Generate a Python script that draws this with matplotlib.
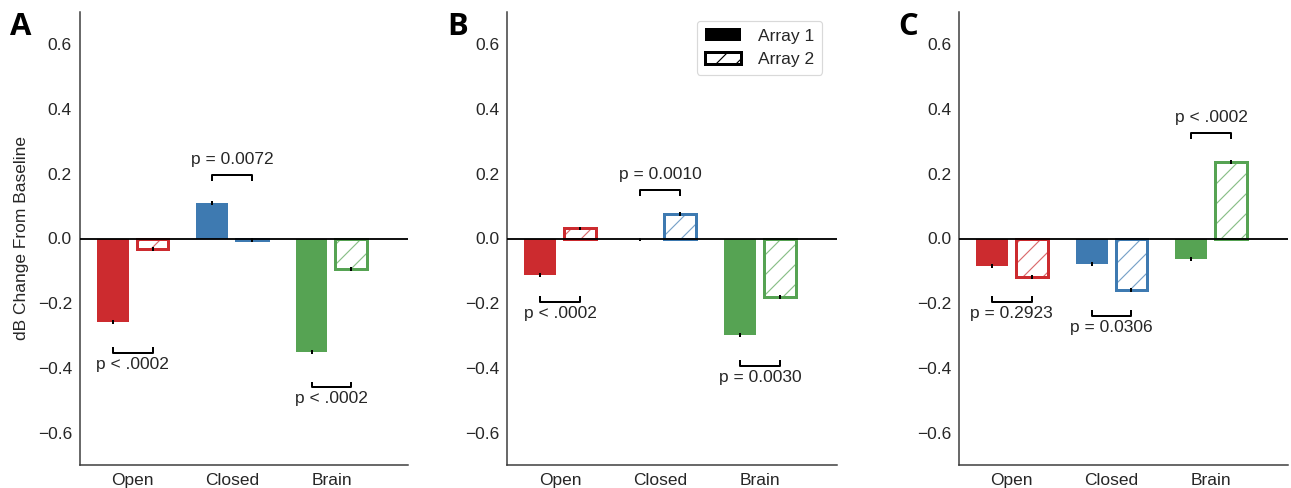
import matplotlib
matplotlib.use("Agg")
import matplotlib.pyplot as plt
from matplotlib.patches import Patch
import numpy as np

# ---------------- data ----------------
categories = ["Open", "Closed", "Brain"]
panel_letters = ["A", "B", "C"]

array1_A = [-0.257, 0.111, -0.352]
array2_A = [-0.033, -0.005, -0.094]
array1_B = [-0.114, -0.003, -0.297]
array2_B = [0.031, 0.077, -0.182]
array1_C = [-0.084, -0.080, -0.062]
array2_C = [-0.118, -0.158, 0.236]

err1_A = [0.006, 0.006, 0.006]
err2_A = [0.006, 0.006, 0.006]
err1_B = [0.006, 0.006, 0.006]
err2_B = [0.006, 0.006, 0.006]
err1_C = [0.006, 0.006, 0.006]
err2_C = [0.006, 0.006, 0.006]

pvals_A = ["p < .0002", "p = 0.0072", "p < .0002"]
pvals_B = ["p < .0002", "p = 0.0010", "p = 0.0030"]
pvals_C = ["p = 0.2923", "p = 0.0306", "p < .0002"]

# bracket heights (data units) and direction (+1 above, -1 below)
bracket_y_A = [-0.354, 0.195, -0.460]
bracket_y_B = [-0.197, 0.149, -0.395]
bracket_y_C = [-0.197, -0.240, 0.325]
bracket_dir_A = [-1, 1, -1]
bracket_dir_B = [-1, 1, -1]
bracket_dir_C = [-1, -1, 1]

yticks = [-0.6, -0.4, -0.2, 0.0, 0.2, 0.4, 0.6]

colors = ["#CC2B2F", "#3E7AB1", "#56A353"]

panels = [
    (array1_A, array2_A, err1_A, err2_A, pvals_A, bracket_y_A, bracket_dir_A),
    (array1_B, array2_B, err1_B, err2_B, pvals_B, bracket_y_B, bracket_dir_B),
    (array1_C, array2_C, err1_C, err2_C, pvals_C, bracket_y_C, bracket_dir_C),
]

# ---------------- figure ----------------
DPI = 120
W, H = 1291, 488
plt.rcParams["font.family"] = ["Liberation Sans", "DejaVu Sans"]
plt.rcParams["hatch.linewidth"] = 0.7
fig = plt.figure(figsize=(W / DPI, H / DPI), dpi=DPI)

ax_px = [(80, 408), (507, 837), (959, 1288)]
top_px, bot_px = 12, 465
letter_x = [10, 447, 898]

text_col = "#262626"
fs = 10.4


def lighten(c, f):
    rgb = np.array(matplotlib.colors.to_rgb(c))
    return tuple(rgb + (1 - rgb) * f)


for i, (a1, a2, e1, e2, pv, by, bd) in enumerate(panels):
    l, r = ax_px[i]
    ax = fig.add_axes([l / W, 1 - bot_px / H, (r - l) / W, (bot_px - top_px) / H])
    x = np.arange(len(categories))
    w = 0.32
    off = 0.2
    for j in range(len(categories)):
        c = colors[j]
        ax.bar(x[j] - off, a1[j], width=w, color=c, linewidth=0, zorder=2)
        ax.bar(x[j] + off, a2[j], width=w, color="none", edgecolor=lighten(c, 0.3),
               hatch="//", linewidth=0, zorder=2)
        ax.bar(x[j] + off, a2[j], width=w, fill=False, edgecolor=c,
               linewidth=1.8, zorder=2.5)
        ax.errorbar([x[j] - off], [a1[j]], yerr=[e1[j]], fmt="none",
                    ecolor="black", elinewidth=1.2, capsize=0, zorder=4)
        ax.errorbar([x[j] + off], [a2[j]], yerr=[e2[j]], fmt="none",
                    ecolor="black", elinewidth=1.2, capsize=0, zorder=4)
        # significance bracket
        yb = by[j]
        d = bd[j]
        tick = 0.018
        ax.plot([x[j] - off, x[j] - off, x[j] + off, x[j] + off],
                [yb - d * tick, yb, yb, yb - d * tick],
                color="black", lw=1.2, zorder=4, solid_capstyle="butt")
        ty = yb + (0.05 if d > 0 else -0.034)
        ax.text(x[j], ty, pv[j], ha="center", va="center", fontsize=fs,
                color=text_col)

    ax.axhline(0, color="black", lw=1.1, zorder=3)
    ax.set_ylim(-0.7, 0.7)
    ax.set_xlim(-0.53, 2.77)
    ax.set_yticks(yticks)
    ax.set_yticklabels([("\u2212" if t < 0 else "") + f"{abs(t):.1f}" for t in yticks])
    ax.set_xticks(x)
    ax.set_xticklabels(categories)
    ax.tick_params(length=0, pad=4.8, labelsize=fs, colors=text_col)
    for s in ["top", "right"]:
        ax.spines[s].set_visible(False)
    for s in ["left", "bottom"]:
        ax.spines[s].set_color("#3a3a3a")
        ax.spines[s].set_linewidth(0.9)
    ax.set_facecolor("white")
    if i == 0:
        ax.set_ylabel("dB Change From Baseline", fontsize=fs, color=text_col, labelpad=5)
    if i == 1:
        handles = [Patch(facecolor="black", edgecolor="black", linewidth=0),
                   Patch(facecolor="white", edgecolor="black", hatch="//", linewidth=1.8)]
        leg = ax.legend(handles, ["Array 1", "Array 2"], loc="upper right",
                        bbox_to_anchor=(0.982, 1.0), fontsize=fs, frameon=True,
                        fancybox=True, handlelength=2.1, handleheight=0.75,
                        borderpad=0.45, labelspacing=0.45, handletextpad=1.0)
        leg.get_frame().set_edgecolor("#d0d0d0")
        leg.get_frame().set_linewidth(0.7)
        for t in leg.get_texts():
            t.set_color(text_col)

    fig.text(letter_x[i] / W, 1 - 27 / H, panel_letters[i], fontsize=18.6,
             fontweight="bold", family=["Open Sans", "DejaVu Sans"],
             ha="left", va="center", color="black")

fig.savefig("out.png", dpi=DPI, facecolor="white")
